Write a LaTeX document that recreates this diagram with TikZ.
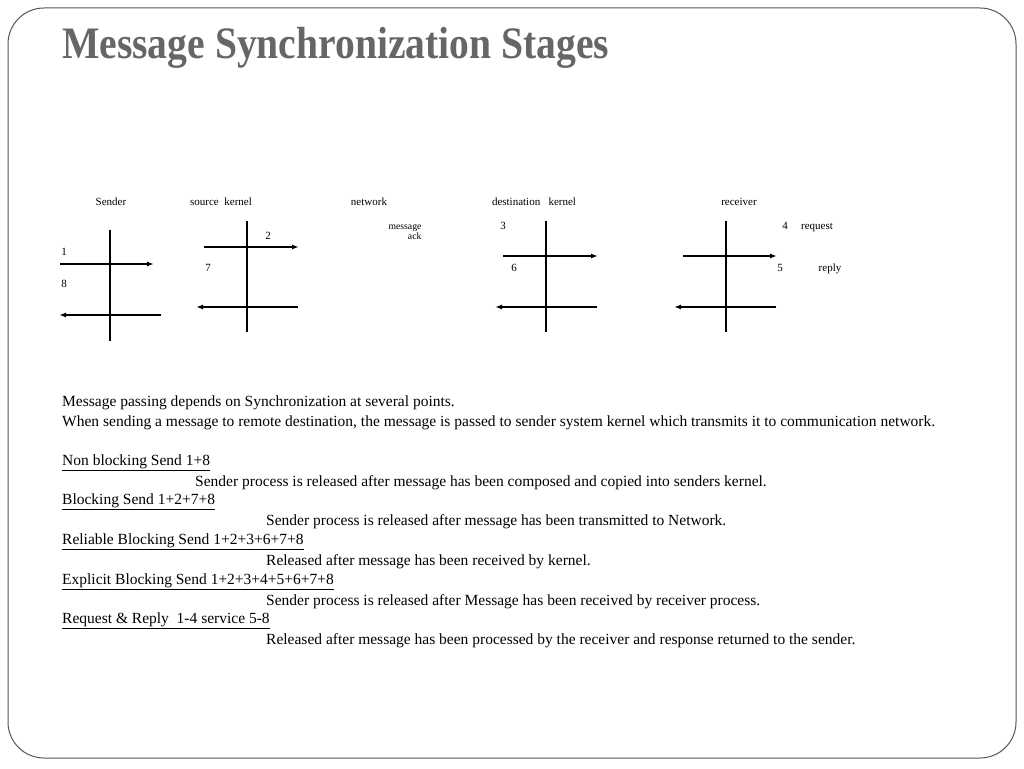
\documentclass[tikz,border=0pt]{standalone}
\usepackage{fontspec}
\setmainfont{Liberation Serif}
\usetikzlibrary{arrows.meta}
\definecolor{titlegray}{HTML}{666666}
\definecolor{framegray}{HTML}{555555}
\begin{document}
\begin{tikzpicture}[x=1pt,y=-1pt,
  body/.style={anchor=west,inner sep=0pt,yshift=-2pt,font=\fontsize{15.5}{18}\selectfont},
  small/.style={inner sep=0pt,yshift=-1pt,text height=7.5pt,text depth=2.5pt,font=\fontsize{11}{13}\selectfont},
  axis/.style={line width=1.4pt,black},
  msg/.style={line width=1.4pt,black,-{Latex[length=7pt,width=5pt]}}]
\useasboundingbox (0,0) rectangle (1024,768);
\draw[framegray,line width=1pt,rounded corners=36pt] (8,8) rectangle (1016,758);
\node[anchor=base west,inner sep=0pt,text=titlegray,font=\fontsize{45}{50}\bfseries\selectfont] (title) at (62,59) {\scalebox{0.88}[1]{Message Synchronization Stages}};

% column labels
\node[small] (lsender) at (111,202) {Sender};
\node[small] (lsource) at (221,202) {source\ \ kernel};
\node[small] (lnet) at (369,202) {network};
\node[small] (ldest) at (534,202) {destination\ \ \ kernel};
\node[small] (lrecv) at (739,202) {receiver};

% sender
\coordinate (s1) at (110,230); \coordinate (s2) at (110,341);
\draw[axis] (s1) -- (s2);
\coordinate (sa1) at (60,264); \coordinate (sa2) at (154,264);
\draw[msg] (sa1) -- (sa2);
\coordinate (sb1) at (161,315); \coordinate (sb2) at (59,315);
\draw[msg] (sb1) -- (sb2);
\node[small] (n1) at (64,252) {1};
\node[small] (n8) at (64,284) {8};

% source kernel
\coordinate (k1) at (247,221); \coordinate (k2) at (247,332);
\draw[axis] (k1) -- (k2);
\coordinate (ka1) at (204,247); \coordinate (ka2) at (299,247);
\draw[msg] (ka1) -- (ka2);
\coordinate (kb1) at (298,307); \coordinate (kb2) at (196,307);
\draw[msg] (kb1) -- (kb2);
\node[small] (n2) at (268,236) {2};
\node[small] (n7) at (208,268) {7};

% network
\node[inner sep=0pt,align=right,font=\fontsize{9.7}{10.5}\selectfont] (netmsg) at (405,232) {message\\ack};

% destination kernel
\coordinate (d1) at (546,221); \coordinate (d2) at (546,332);
\draw[axis] (d1) -- (d2);
\coordinate (da1) at (503,256); \coordinate (da2) at (598,256);
\draw[msg] (da1) -- (da2);
\coordinate (db1) at (597,307); \coordinate (db2) at (495,307);
\draw[msg] (db1) -- (db2);
\node[small] (n3) at (503,226) {3};
\node[small] (n6) at (514,268) {6};

% receiver
\coordinate (r1) at (726,221); \coordinate (r2) at (726,332);
\draw[axis] (r1) -- (r2);
\coordinate (ra1) at (683,256); \coordinate (ra2) at (777,256);
\draw[msg] (ra1) -- (ra2);
\coordinate (rb1) at (776,307); \coordinate (rb2) at (674,307);
\draw[msg] (rb1) -- (rb2);
\node[small] (n4) at (785,226) {4};
\node[small] (lreq) at (817,226) {request};
\node[small] (n5) at (780,268) {5};
\node[small] (lrep) at (830,268) {reply};

% body text
\node[body] (t1) at (62,401) {Message passing depends on Synchronization at several points.};
\node[body] (t2) at (62,421) {When sending a message to remote destination, the message is passed to sender system kernel which transmits it to communication network.};
\node[body] (t3) at (62,461) {\underline{Non blocking Send 1+8}};
\node[body] (t4) at (195,481) {Sender process is released after message has been composed and copied into senders kernel.};
\node[body] (t5) at (62,500) {\underline{Blocking Send 1+2+7+8}};
\node[body] (t6) at (266,520) {Sender process is released after message has been transmitted to Network.};
\node[body] (t7) at (62,540) {\underline{Reliable Blocking Send 1+2+3+6+7+8}};
\node[body] (t8) at (266,560) {Released after message has been received by kernel.};
\node[body] (t9) at (62,580) {\underline{Explicit Blocking Send 1+2+3+4+5+6+7+8}};
\node[body] (t10) at (266,600) {Sender process is released after Message has been received by receiver process.};
\node[body] (t11) at (62,619) {\underline{Request \& Reply\ \ 1-4 service 5-8}};
\node[body] (t12) at (266,639) {Released after message has been processed by the receiver and response returned to the sender.};
\end{tikzpicture}
\end{document}
